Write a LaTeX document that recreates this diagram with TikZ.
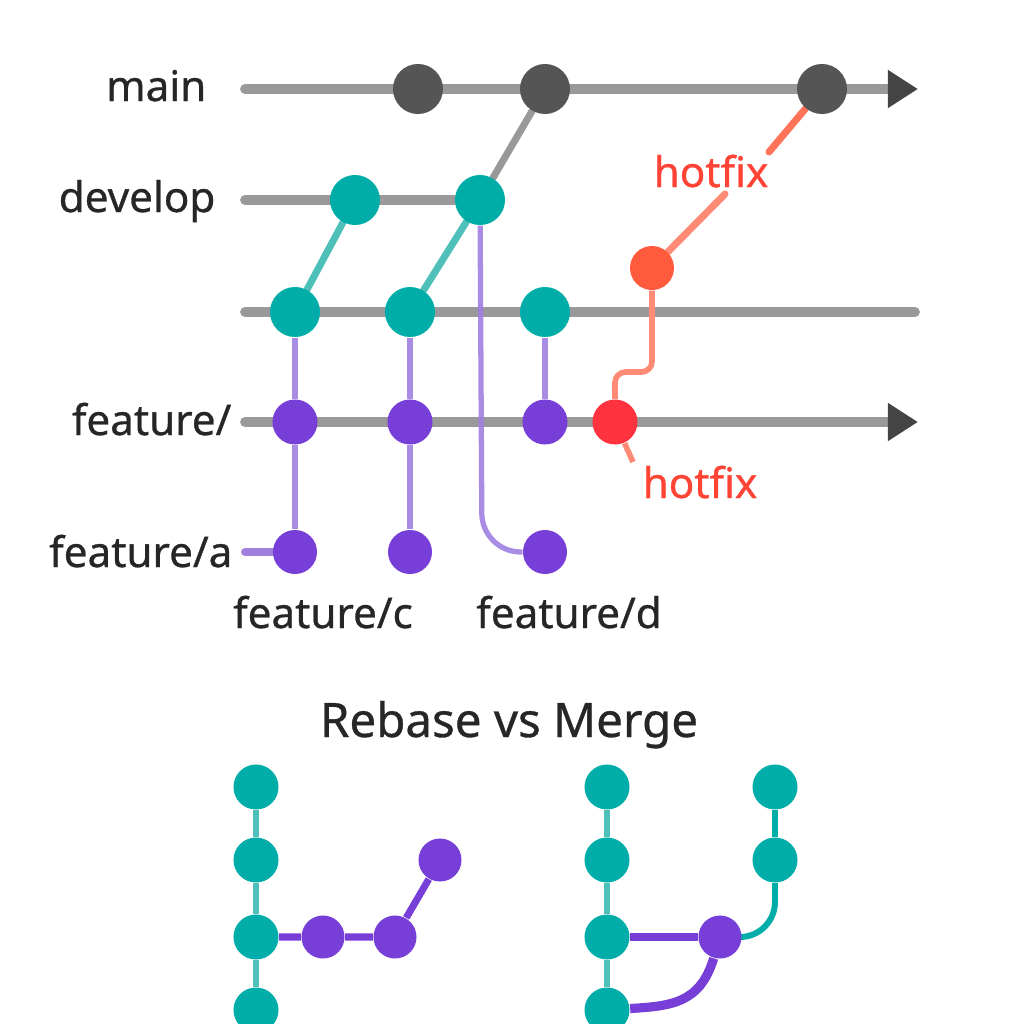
\documentclass[tikz,border=0pt]{standalone}
\usepackage{fontspec}
\setmainfont[FakeBold=0.7]{Noto Sans}
\usetikzlibrary{arrows.meta,backgrounds}
\definecolor{railgray}{HTML}{999999}
\definecolor{tipgray}{HTML}{444444}
\definecolor{commitgray}{HTML}{555555}
\definecolor{gteal}{HTML}{00ADA8}
\definecolor{lteal}{HTML}{4EBFB9}
\definecolor{gpurple}{HTML}{773ED8}
\definecolor{lpurple}{HTML}{A07FE0}
\definecolor{hotred}{HTML}{FF3340}
\definecolor{hotorange}{HTML}{FF5A3C}
\definecolor{hotline}{HTML}{FF8A76}
\definecolor{hottext}{HTML}{FF4436}
\definecolor{ink}{HTML}{262626}

\begin{document}
\begin{tikzpicture}[x=0.01cm, y=-0.01cm,
  commit/.style={circle, inner sep=0pt, minimum size=0.5cm},
  dot/.style={circle, inner sep=0pt, minimum size=0.45cm},
  rail/.style={draw=railgray, line width=2.8pt, line cap=round},
  link/.style={line width=2pt, line cap=round},
  lbl/.style={inner sep=0pt, text=ink, font=\fontsize{12}{14}\selectfont}]
\useasboundingbox (0,0) rectangle (1024,1024);

%branches
\foreach \x/\n in {418/m1, 545/m2, 822/m3} {\node[commit, fill=commitgray] (\n) at (\x,89) {};}
\foreach \x/\n in {355/d1, 480/d2} {\node[commit, fill=gteal] (\n) at (\x,200) {};}
\foreach \x/\n in {295/t1, 410/t2, 545/t3} {\node[commit, fill=gteal] (\n) at (\x,312) {};}
\foreach \x/\n in {295/f1, 410/f2, 545/f3} {\node[dot, fill=gpurple] (\n) at (\x,422) {};}
\foreach \x/\n in {295/a1, 410/a2, 545/a3} {\node[dot, fill=gpurple, minimum size=0.44cm] (\n) at (\x,552) {};}
\node[dot, fill=hotred] (hf1) at (615,422) {};
\node[dot, fill=hotorange, minimum size=0.44cm] (hf2) at (652,268) {};

\node[lbl, anchor=base east] (lmain) at (207,101) {main};
\node[lbl, anchor=base east] (ldev) at (216,212) {develop};
\node[lbl, anchor=base east] (lfeat) at (232,435) {feature/};
\node[lbl, anchor=base east] (lfa) at (233,567) {feature/a};
\node[lbl, anchor=base] (lfc) at (323,628) {feature/c};
\node[lbl, anchor=base] (lfd) at (569,628) {feature/d};
\node[lbl, anchor=base west, text=hottext] (hot1) at (653,187) {hotfix};
\node[lbl, anchor=base west, text=hottext] (hot2) at (642,498) {hotfix};

\coordinate (ms) at (245,89);  \coordinate (me) at (918,89);
\coordinate (ds) at (245,200);
\coordinate (ts) at (245,312); \coordinate (te) at (915,312);
\coordinate (fs) at (245,422); \coordinate (fe) at (918,422);
\coordinate (as) at (245,552);
\coordinate (h1a) at (725,194); \coordinate (h1b) at (769,152);
\coordinate (h2a) at (633,462);

%rebase vs merge
\node[anchor=base, text=ink, inner sep=0pt, font=\fontsize{13.5}{16}\selectfont] (title) at (509,737) {Rebase vs Merge};
\foreach \y/\n in {787/1, 860/2, 937/3, 1010/4} {
  \node[dot, fill=gteal] (rb\n) at (256,\y) {};
  \node[dot, fill=gteal] (mg\n) at (607,\y) {};}
\node[dot, fill=gteal] (mr1) at (775,787) {};
\node[dot, fill=gteal] (mr2) at (775,860) {};
\node[dot, fill=gpurple, minimum size=0.43cm] (rp1) at (323,937) {};
\node[dot, fill=gpurple, minimum size=0.43cm] (rp2) at (395,937) {};
\node[dot, fill=gpurple, minimum size=0.43cm] (rp3) at (440,860) {};
\node[dot, fill=gpurple, minimum size=0.43cm] (mp) at (720,937) {};

\begin{scope}[on background layer]
\draw[rail, -{Triangle[length=0.3cm, width=0.36cm, color=tipgray]}] (ms) -- (me);
\draw[rail] (ds) -- (d2);
\draw[rail] (ts) -- (te);
\draw[rail, -{Triangle[length=0.3cm, width=0.36cm, color=tipgray]}] (fs) -- (fe);
\draw[link, railgray] (d2) -- (m2);
\draw[link, lteal] (t1) -- (d1);
\draw[link, lteal] (t2) -- (d2);
\draw[line width=1.5pt, lpurple, opacity=.9] (t1) -- (f1) -- (a1) (t2) -- (f2) -- (a2) (t3) -- (f3);
\draw[line width=1.5pt, lpurple, opacity=.9, rounded corners=11pt] (d2) -- (482,552) -- (a3);
\draw[line width=2.2pt, lpurple, line cap=round] (as) -- (a1);
\draw[link, hotline] (hf2) -- (h1a);
\draw[link, hotorange!85!white] (h1b) -- (m3);
\draw[line width=1.6pt, hotline, rounded corners=3pt] (hf2) -- (652,372) -- (615,372) -- (hf1);
\draw[line width=1.6pt, hotline] (hf1) -- (h2a);
%bottom
\draw[line width=1.7pt, lteal] (rb1) -- (rb2) -- (rb3) -- (rb4) (mg1) -- (mg2) -- (mg3) -- (mg4);
\draw[line width=1.7pt, gteal] (mr1) -- (mr2);
\draw[line width=1.7pt, gteal, rounded corners=10pt] (mr2) -- (775,937) -- (mp);
\draw[line width=2pt, gpurple] (rb3) -- (rp1) -- (rp2) -- (rp3);
\draw[line width=2pt, gpurple] (mg3) -- (mp);
\draw[line width=2.6pt, gpurple] (mp) .. controls (700,1004) and (670,1006) .. (mg4);
\end{scope}
\end{tikzpicture}
\end{document}
